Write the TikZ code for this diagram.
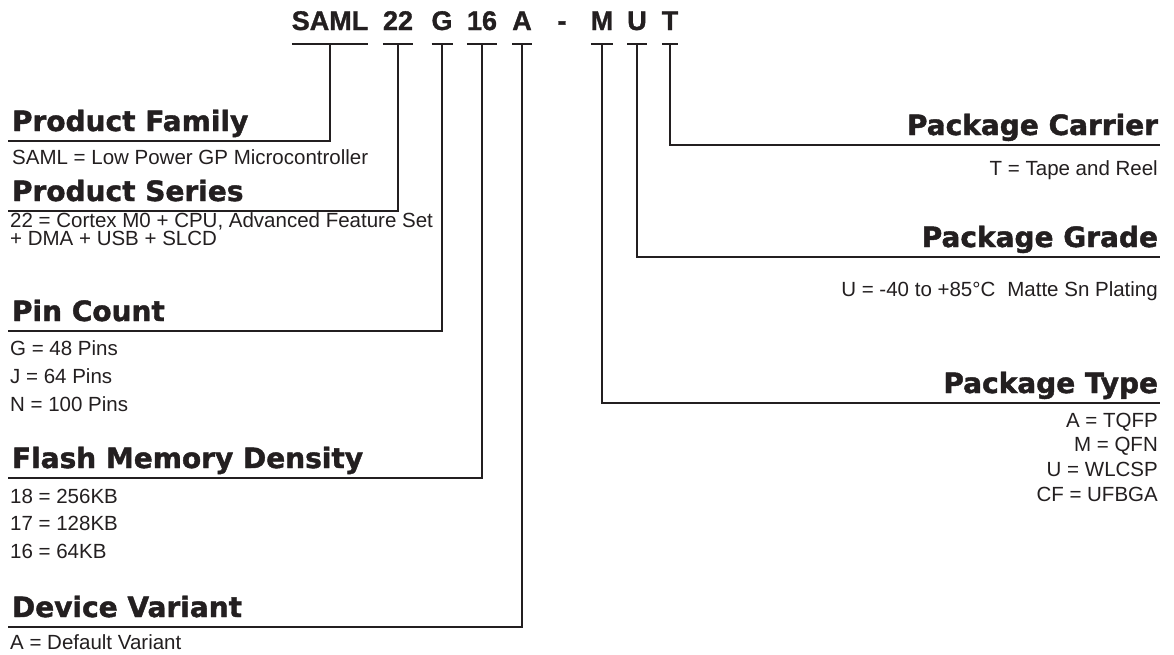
\documentclass[tikz,border=0pt]{standalone}
\usepackage{fontspec}
\setmainfont{Liberation Sans}
\newfontfamily\heavyfont{DejaVu Sans}[UprightFont=* Bold, FakeBold=1.5]
\newfontfamily\codefont{Liberation Sans}[UprightFont=* Bold, FakeBold=1.2]
\definecolor{ink}{HTML}{231F20}
\tikzset{
  codetext/.style={font=\codefont\fontsize{27}{27}\selectfont, text=ink, anchor=south,
    inner xsep=0pt, inner ysep=0pt, outer sep=0pt, text depth=14pt},
  ltitle/.style={font=\heavyfont\fontsize{28}{28}\selectfont, text=ink, anchor=south west,
    inner xsep=4pt, inner ysep=0pt, outer sep=0pt, text depth=10pt},
  rtitle/.style={font=\heavyfont\fontsize{28}{28}\selectfont, text=ink, anchor=south east,
    inner xsep=2pt, inner ysep=0pt, outer sep=0pt, text depth=10pt},
  ldesc/.style={font=\fontsize{20.5}{27.5}\selectfont, text=ink, anchor=base west,
    inner sep=0pt, align=left},
  rdesc/.style={font=\fontsize{20.5}{24.6}\selectfont, text=ink, anchor=base east,
    inner sep=0pt, align=right},
  uline/.style={draw=ink, line width=1.8pt},
  conn/.style={draw=ink, line width=1.4pt},
}
\begin{document}
\begin{tikzpicture}[x=1pt,y=-1pt]
\useasboundingbox[fill=white] (0,0) rectangle (1174,654);
% code letters
\node[codetext] (c1) at (330,44) {SAML};
\node[codetext] (c2) at (398,44) {22};
\node[codetext] (c3) at (442,44) {G};
\node[codetext] (c4) at (482,44) {16};
\node[codetext] (c5) at (522,44) {A};
\node[codetext] (dash) at (562,44) {-};
\node[codetext] (c6) at (602,44) {M};
\node[codetext] (c7) at (637,44) {U};
\node[codetext] (c8) at (670,44) {T};
\foreach \n in {c1,c2,c3,c4,c5,c6,c7,c8}
  \draw[uline] (\n.south west) -- (\n.south east);
% left titles
\node[ltitle] (pf) at (8,141) {Product Family};
\node[ltitle] (ps) at (8,211) {Product Series};
\node[ltitle] (pc) at (8,331) {Pin Count};
\node[ltitle] (fm) at (8,478) {Flash Memory Density};
\node[ltitle] (dv) at (8,627) {Device Variant};
% right titles
\node[rtitle] (pcar) at (1160,145) {Package Carrier};
\node[rtitle] (pgr) at (1160,257) {Package Grade};
\node[rtitle] (pty) at (1160,403) {Package Type};
% connectors
\draw[conn] (c1.south) |- (pf.south west);
\draw[conn] (c2.south) |- (ps.south west);
\draw[conn] (c3.south) |- (pc.south west);
\draw[conn] (c4.south) |- (fm.south west);
\draw[conn] (c5.south) |- (dv.south west);
\draw[conn] (c8.south) |- (pcar.south east);
\draw[conn] (c7.south) |- (pgr.south east);
\draw[conn] (c6.south) |- (pty.south east);
% descriptions (multi-line nodes are placed at their last baseline)
\node[ldesc] (pfd) at (12,164) {SAML = Low Power GP Microcontroller};
\node[ldesc, font=\fontsize{20.5}{15}\selectfont] (psd) at (10,245) {22 = Cortex M0 + CPU, Advanced Feature Set\\+ DMA + USB + SLCD};
\node[ldesc, font=\fontsize{20.5}{28}\selectfont] (pcd) at (10,411) {G = 48 Pins\\J = 64 Pins\\N = 100 Pins};
\node[ldesc] (fmd) at (10,558) {18 = 256KB\\17 = 128KB\\16 = 64KB};
\node[ldesc] (dvd) at (10,649) {A = Default Variant};
\node[rdesc] (pcard) at (1158,175) {T = Tape and Reel};
\node[rdesc] (pgrd) at (1158,296) {U = -40 to +85\textdegree C\hspace{12pt}Matte Sn Plating};
\node[rdesc] (ptyd) at (1158,501) {A = TQFP\\M = QFN\\U = WLCSP\\CF = UFBGA};
\end{tikzpicture}
\end{document}
